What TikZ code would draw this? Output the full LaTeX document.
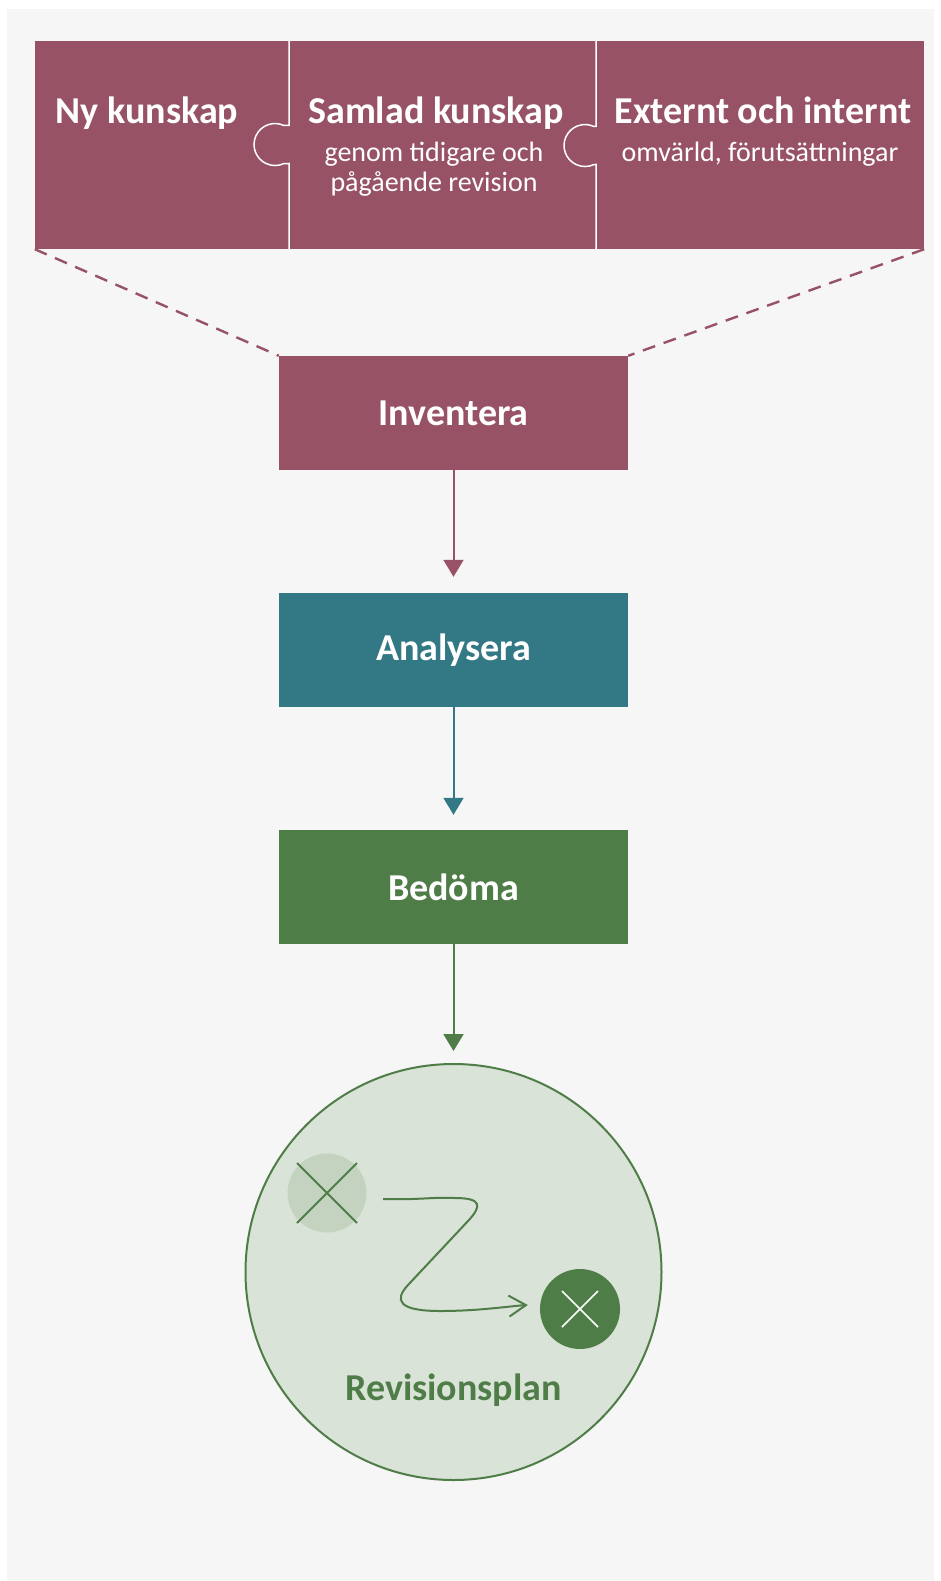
\documentclass[tikz,border=0pt]{standalone}
\usepackage{fontspec}
\setmainfont{Carlito}
\usetikzlibrary{arrows.meta, calc, positioning}

\definecolor{planbg}{RGB}{246,246,246}
\definecolor{planred}{HTML}{975365}
\definecolor{planteal}{HTML}{337985}
\definecolor{plangreen}{HTML}{4F7D47}
\definecolor{planlight}{HTML}{D9E3D7}
\definecolor{planpale}{HTML}{C4D3C0}

\begin{document}
\begin{tikzpicture}[x=1pt, y=-1pt,
    piece/.style={fill=planred, inner sep=0pt, minimum height=208pt},
    title/.style={text=white, font=\bfseries\fontsize{38}{40}\selectfont, anchor=base},
    sub/.style={text=white, font=\fontsize{28}{29.5}\selectfont, align=center, anchor=north, inner sep=0pt},
    stepbox/.style={minimum width=349pt, minimum height=114pt, inner sep=0pt, text=white, font=\bfseries\fontsize{38}{40}\selectfont},
    flow/.style={line width=2pt, -{Triangle[width=20pt,length=17pt]}},
    link/.style={planred, line width=2.4pt, dash pattern=on 13pt off 9pt},
    knob/.style={white, line width=1.5pt}]

        \useasboundingbox (0,0) rectangle (940,1581);
        \fill[white] (0,0) rectangle (940,1581);
        \fill[planbg] (7,9) rectangle (934,1581);

        % puzzle
        \node[piece, minimum width=254pt] (ny) at (162,145) {};
        \node[piece, minimum width=307pt] (samlad) at (442.5,145) {};
        \node[piece, minimum width=328pt] (externt) at (760,145) {};

        \draw[knob] (ny.north east) -- (289,125.5) -- (283.9,125.5)
            arc[start angle=-65, end angle=-295, radius=21] -- (289,163.5) -- (ny.south east);
        \draw[knob] (samlad.north east) -- (596,126.5) -- (593.9,126.5)
            arc[start angle=-65, end angle=-295, radius=21] -- (596,164.5) -- (samlad.south east);

        \node[title] (nytitle) at (147,124) {Ny kunskap};
        \node[title] (samladtitle) at (436,124) {Samlad kunskap};
        \node[sub] (samladsub) at (434,142) {genom tidigare och\\pågående revision};
        \node[title] (externttitle) at (763,124) {Externt och internt};
        \node[sub] (externtsub) at (760,142) {omvärld, förutsättningar};

        % steps
        \node[stepbox, fill=planred] (inventera) at (453.5,413) {Inventera};
        \node[stepbox, fill=planteal] (analysera) at (453.5,650) {Analysera};
        \node[stepbox, fill=plangreen] (bedoma) at (453.5,887) {Bedöma};

        \draw[link] (ny.south west) -- (inventera.north west);
        \draw[link] (externt.south east) -- (inventera.north east);

        \node[circle, draw=plangreen, line width=2pt, fill=planlight, minimum size=416pt, inner sep=0pt] (plan) at (453.5,1272) {};

        \draw[flow, planred, shorten >=16pt] (inventera) -- (analysera);
        \draw[flow, planteal, shorten >=15pt] (analysera) -- (bedoma);
        \draw[flow, plangreen, shorten >=12pt] (bedoma) -- (plan);

        % plan
        \node[circle, fill=planpale, minimum size=79pt, inner sep=0pt] (start) at (327,1193) {};
        \node[circle, fill=plangreen, minimum size=80pt, inner sep=0pt] (finish) at (580,1309) {};
        \draw[plangreen, line width=1.8pt] (start.center) +(-30,-30) -- +(30,30)
            (start.center) +(30,-30) -- +(-30,30);
        \draw[white, line width=1.5pt] (finish.center) +(-18,-18) -- +(18,18)
            (finish.center) +(18,-18) -- +(-18,18);

        \draw[plangreen, line width=2pt, -{Straight Barb[length=17pt,width=21pt]}]
            ([xshift=16.5pt,yshift=-6pt]start.east) .. controls (420,1200) and (430,1197) .. (455,1198)
            .. controls (482,1198) and (482,1206) .. (468,1221) -- (408,1285)
            .. controls (394,1300) and (398,1311) .. (440,1311)
            .. controls (480,1311) and (510,1306) .. ([xshift=-12pt,yshift=4pt]finish.west);

        \node[text=plangreen, font=\bfseries\fontsize{38}{40}\selectfont, anchor=base] (plantitle) at (453.5,1400) {Revisionsplan};

    \end{tikzpicture}
\end{document}
